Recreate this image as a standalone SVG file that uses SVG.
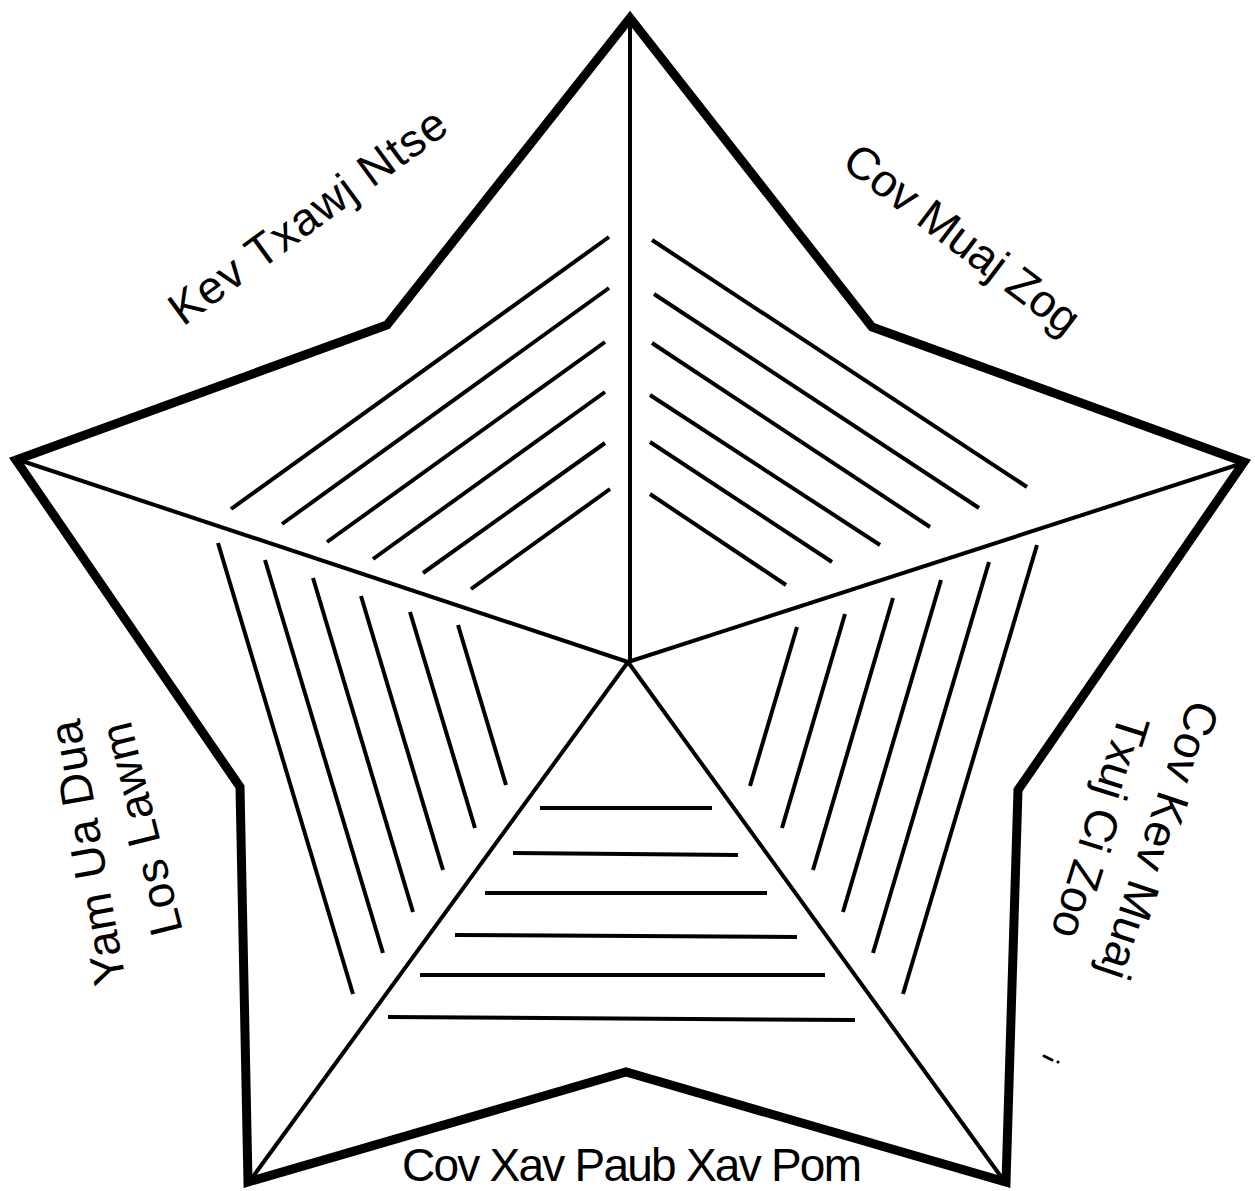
<svg xmlns="http://www.w3.org/2000/svg" width="1255" height="1191" viewBox="0 0 1255 1191">
<style>
.outline{fill:none;stroke:#000;stroke-width:9;stroke-linejoin:miter;stroke-miterlimit:10}
.spoke{stroke:#000;stroke-width:4;fill:none}
.hatch{stroke:#000;stroke-width:4;fill:none}
.lbl{font-family:"Liberation Sans",Arial,sans-serif;font-size:46px;fill:#000}
</style>
<rect width="1255" height="1191" fill="#fff"/>
<g id="star">
<polygon class="outline" points="630,18 872,327 1244,462 1018,790 1006,1182 626,1072 248,1182 240,787 16,460 387,325"/>
</g>
<g id="connectors">
<line class="spoke" x1="630" y1="24" x2="630" y2="662"/>
<line class="spoke" x1="628" y1="662" x2="1240" y2="464"/>
<line class="spoke" x1="628" y1="662" x2="1002" y2="1178"/>
<line class="spoke" x1="628" y1="662" x2="252" y2="1178"/>
<line class="spoke" x1="628" y1="662" x2="22" y2="461"/>
</g>
<g id="sector-top-left">
<line class="hatch" x1="609" y1="237" x2="231" y2="509"/>
<line class="hatch" x1="609" y1="288" x2="282" y2="524"/>
<line class="hatch" x1="605" y1="342" x2="327" y2="542"/>
<line class="hatch" x1="605" y1="392" x2="373" y2="559"/>
<line class="hatch" x1="605" y1="443" x2="423" y2="573"/>
<line class="hatch" x1="610" y1="489" x2="471" y2="589"/>
</g>
<g id="sector-top-right">
<line class="hatch" x1="652" y1="240" x2="1027" y2="487"/>
<line class="hatch" x1="654" y1="294" x2="979" y2="508"/>
<line class="hatch" x1="652" y1="343" x2="930" y2="527"/>
<line class="hatch" x1="650" y1="395" x2="880" y2="545"/>
<line class="hatch" x1="650" y1="442" x2="832" y2="562"/>
<line class="hatch" x1="650" y1="494" x2="786" y2="585"/>
</g>
<g id="sector-bottom-right">
<line class="hatch" x1="1037" y1="545" x2="903" y2="994"/>
<line class="hatch" x1="989" y1="562" x2="873" y2="953"/>
<line class="hatch" x1="941" y1="580" x2="843" y2="912"/>
<line class="hatch" x1="893" y1="598" x2="813" y2="870"/>
<line class="hatch" x1="845" y1="614" x2="782" y2="828"/>
<line class="hatch" x1="797" y1="627" x2="750" y2="786"/>
</g>
<g id="sector-bottom">
<line class="hatch" x1="540" y1="808" x2="712" y2="808"/>
<line class="hatch" x1="513" y1="853" x2="738" y2="855"/>
<line class="hatch" x1="485" y1="893" x2="767" y2="893"/>
<line class="hatch" x1="455" y1="935" x2="797" y2="937"/>
<line class="hatch" x1="420" y1="975" x2="825" y2="975"/>
<line class="hatch" x1="388" y1="1017" x2="855" y2="1020"/>
</g>
<g id="sector-bottom-left">
<line class="hatch" x1="218" y1="543" x2="353" y2="994"/>
<line class="hatch" x1="265" y1="560" x2="383" y2="953"/>
<line class="hatch" x1="313" y1="578" x2="413" y2="912"/>
<line class="hatch" x1="361" y1="596" x2="443" y2="870"/>
<line class="hatch" x1="410" y1="612" x2="475" y2="828"/>
<line class="hatch" x1="458" y1="625" x2="506" y2="785"/>
</g>
<g id="label-kev-txawj-ntse">
<text class="lbl" transform="translate(183,327) rotate(-36.2)" textLength="332">Kev Txawj Ntse</text>
</g>
<g id="label-cov-muaj-zog">
<text class="lbl" transform="translate(840,166) rotate(37.2)" textLength="283">Cov Muaj Zog</text>
</g>
<g id="label-cov-kev-muaj">
<text class="lbl" transform="translate(1190,698) rotate(108.5)" textLength="290">Cov Kev Muaj</text>
<text class="lbl" transform="translate(1120,712) rotate(107.5)" textLength="231">Txuj Ci Zoo</text>
</g>
<g id="label-yam-ua-dua">
<text class="lbl" transform="translate(126,982) rotate(-100)" textLength="268">Yam Ua Dua</text>
<text class="lbl" transform="translate(183,931) rotate(-104)" textLength="218">Los Lawm</text>
</g>
<g id="label-cov-xav-paub">
<text class="lbl" x="402" y="1181" textLength="460">Cov Xav Paub Xav Pom</text>
</g>
<g id="mark">
<path d="M1044,1056 L1052,1060" stroke="#000" stroke-width="3" stroke-linecap="round"/>
<circle cx="1058" cy="1062" r="1.6" fill="#000"/>
</g>
</svg>
